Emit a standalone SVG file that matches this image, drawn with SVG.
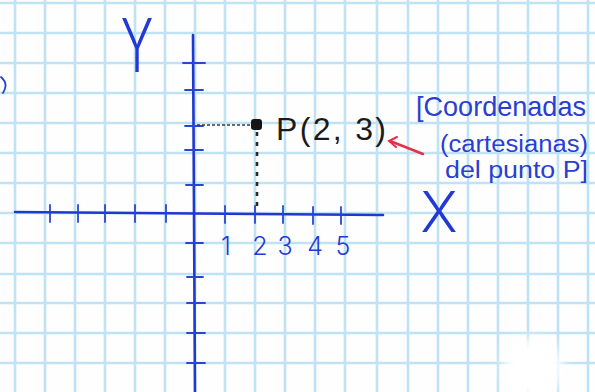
<svg xmlns="http://www.w3.org/2000/svg" width="595" height="392" viewBox="0 0 595 392">
  <defs>
    <style>
      .grid { stroke: #bfe2f4; stroke-width: 2.6; }
      .axis { stroke: #1f38cf; stroke-width: 2.6; stroke-linecap: round; fill: none; }
      .tick { stroke: #2a44d4; stroke-width: 1.8; stroke-linecap: round; }
      .blue { fill: #2339d6; font-family: "Inter", "Liberation Sans", sans-serif; font-weight: 300; }
      .ink { fill: #1b1b1b; font-family: "Liberation Sans", sans-serif; }
      .note { fill: #2a3fd2; font-family: "Liberation Sans", sans-serif; }
    </style>
    <filter id="blur" x="-50%" y="-50%" width="200%" height="200%">
      <feGaussianBlur stdDeviation="6"/>
    </filter>
  </defs>

  <rect width="595" height="392" fill="#fefefe"/>

  <g id="grid">
    <g class="grid">
      <line x1="15" y1="0" x2="15" y2="392"/>
      <line x1="45" y1="0" x2="45" y2="392"/>
      <line x1="75" y1="0" x2="75" y2="392"/>
      <line x1="105" y1="0" x2="105" y2="392"/>
      <line x1="135" y1="0" x2="135" y2="392"/>
      <line x1="165" y1="0" x2="165" y2="392"/>
      <line x1="195" y1="0" x2="195" y2="392"/>
      <line x1="225" y1="0" x2="225" y2="392"/>
      <line x1="255" y1="0" x2="255" y2="392"/>
      <line x1="285" y1="0" x2="285" y2="392"/>
      <line x1="315" y1="0" x2="315" y2="392"/>
      <line x1="345" y1="0" x2="345" y2="392"/>
      <line x1="377" y1="0" x2="377" y2="392"/>
      <line x1="408" y1="0" x2="408" y2="392"/>
      <line x1="438" y1="0" x2="438" y2="392"/>
      <line x1="468" y1="0" x2="468" y2="392"/>
      <line x1="498" y1="0" x2="498" y2="392"/>
      <line x1="528" y1="0" x2="528" y2="392"/>
      <line x1="558" y1="0" x2="558" y2="392"/>
      <line x1="588" y1="0" x2="588" y2="392"/>
      <line x1="0" y1="3" x2="595" y2="3"/>
      <line x1="0" y1="33" x2="595" y2="33"/>
      <line x1="0" y1="63" x2="595" y2="63"/>
      <line x1="0" y1="93" x2="595" y2="93"/>
      <line x1="0" y1="123" x2="595" y2="123"/>
      <line x1="0" y1="153" x2="595" y2="153"/>
      <line x1="0" y1="183" x2="595" y2="183"/>
      <line x1="0" y1="213" x2="595" y2="213"/>
      <line x1="0" y1="243" x2="595" y2="243"/>
      <line x1="0" y1="274" x2="595" y2="274"/>
      <line x1="0" y1="303" x2="595" y2="303"/>
      <line x1="0" y1="333" x2="595" y2="333"/>
      <line x1="0" y1="363" x2="595" y2="363"/>
    </g>
    <ellipse cx="533" cy="368" rx="30" ry="30" fill="#ffffff" filter="url(#blur)"/>
  </g>

  <g id="axes">
    <line class="axis" x1="15" y1="212" x2="383" y2="215"/>
    <line class="axis" x1="193" y1="35" x2="195" y2="392"/>
    <g class="tick">
      <line x1="50" y1="205" x2="50" y2="222"/>
      <line x1="78" y1="205" x2="78" y2="222"/>
      <line x1="105" y1="205" x2="105" y2="222"/>
      <line x1="135" y1="205" x2="135" y2="222"/>
      <line x1="166" y1="205" x2="166" y2="222"/>
      <line x1="225" y1="206" x2="225" y2="223"/>
      <line x1="255" y1="206" x2="255" y2="223"/>
      <line x1="283" y1="206" x2="283" y2="223"/>
      <line x1="313" y1="207" x2="313" y2="224"/>
      <line x1="341" y1="207" x2="341" y2="224"/>
      <line x1="183" y1="63" x2="205" y2="63"/>
      <line x1="185" y1="90" x2="203" y2="90"/>
      <line x1="185" y1="126" x2="203" y2="126"/>
      <line x1="185" y1="150" x2="203" y2="150"/>
      <line x1="186" y1="185" x2="203" y2="185"/>
      <line x1="186" y1="243" x2="203" y2="243"/>
      <line x1="187" y1="277" x2="203" y2="277"/>
      <line x1="187" y1="303" x2="205" y2="303"/>
      <line x1="187" y1="333" x2="205" y2="333"/>
      <line x1="187" y1="363" x2="205" y2="363"/>
    </g>
  </g>

  <g id="axis-labels">
    <text class="blue" font-size="74" text-anchor="middle" transform="translate(137,72) scale(0.66,1)">Y</text>
    <text class="blue" font-size="56" text-anchor="middle" x="439" y="232">X</text>
    <g font-size="25">
      <text class="blue" x="226" y="255" text-anchor="middle">1</text>
      <text class="blue" x="260" y="255" text-anchor="middle">2</text>
      <text class="blue" x="285" y="255" text-anchor="middle">3</text>
      <text class="blue" x="315" y="255" text-anchor="middle">4</text>
      <text class="blue" x="343" y="255" text-anchor="middle">5</text>
    </g>
  </g>

  <g id="point-P">
    <line x1="197" y1="125" x2="251" y2="125" stroke="#3a3a3a" stroke-width="1.6" stroke-dasharray="3 2"/>
    <line x1="257" y1="132" x2="257" y2="210" stroke="#2a2a2a" stroke-width="2.6" stroke-dasharray="4 6"/>
    <rect x="251" y="119" width="11" height="11" rx="3" fill="#151515"/>
    <text class="ink" x="276" y="140" font-size="32" textLength="110" lengthAdjust="spacing">P(2, 3)</text>
  </g>

  <g id="annotation">
    <line x1="423" y1="154" x2="390" y2="141" stroke="#e5304c" stroke-width="2.5" stroke-linecap="round"/>
    <polyline points="397,137 389,141 396,147" fill="none" stroke="#e5304c" stroke-width="2" stroke-linecap="round"/>
    <text class="note" x="416" y="116" font-size="28" textLength="170" lengthAdjust="spacingAndGlyphs">[Coordenadas</text>
    <text class="note" x="440" y="152" font-size="23" textLength="148" lengthAdjust="spacingAndGlyphs">(cartesianas)</text>
    <text class="note" x="445" y="178" font-size="23" textLength="143" lengthAdjust="spacingAndGlyphs">del punto P]</text>
  </g>

  <g id="edge-mark">
    <path d="M1,77 Q9,84 3,93" fill="none" stroke="#2a3fd2" stroke-width="1.8" stroke-linecap="round"/>
  </g>
</svg>
